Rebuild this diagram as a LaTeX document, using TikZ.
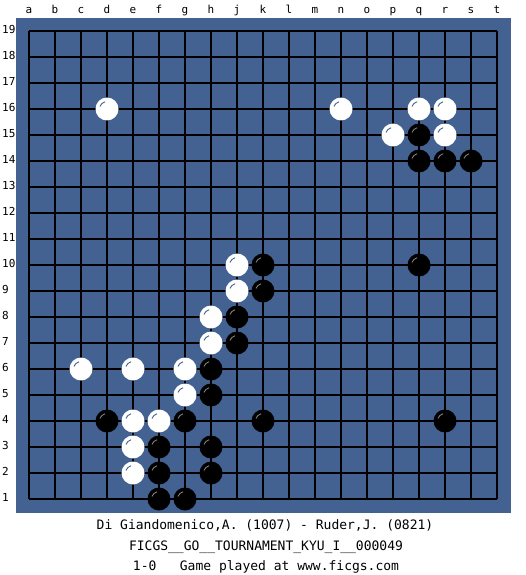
\documentclass[tikz,border=0pt]{standalone}
\usepackage{fontspec}
\newfontfamily\monofont{DejaVu Sans Mono}
\definecolor{boardblue}{RGB}{67,98,145}
\definecolor{hlgray}{RGB}{128,128,128}
\begin{document}
\begin{tikzpicture}[x=1pt,y=-1pt,
  gridline/.style={line width=1.3pt,black},
  lbl/.style={font=\monofont\fontsize{11}{11}\selectfont,inner sep=0pt},
  caption/.style={font=\monofont\fontsize{13}{13}\selectfont,inner sep=0pt,anchor=base},
  wstone/.style={fill=white},
  bstone/.style={fill=black},
  whl/.style={draw=boardblue,line width=0.9pt},
  bhl/.style={draw=hlgray,line width=0.9pt}]
\useasboundingbox (0,0) rectangle (525,575);
\fill[white] (0,0) rectangle (525,575);
\fill[boardblue] (16,18) rectangle (511,513);
\foreach \i in {0,...,18}{
  \draw[gridline] (29+26*\i,31) -- (29+26*\i,499);
  \draw[gridline] (29,31+26*\i) -- (497,31+26*\i);
}
\foreach \l [count=\i from 0] in {a,b,c,d,e,f,g,h,j,k,l,m,n,o,p,q,r,s,t}
  \node[lbl,anchor=base] (col\l) at (29+26*\i,14) {\l};
\foreach \r in {1,...,19}
  \node[lbl,anchor=base west] (row\r) at (2,31+26*19-26*\r+2.5) {\r};
% white stones: column index, row
\foreach \c/\r in {3/16,12/16,15/16,16/16,14/15,16/15,8/10,8/9,7/8,7/7,2/6,4/6,6/6,6/5,4/4,5/4,4/3,4/2}{
  \fill[wstone] (29+26*\c,31+26*19-26*\r) circle (11.5);
  \draw[whl] (29+26*\c,31+26*19-26*\r) ++(-160:7.5) arc[start angle=-160,end angle=-105,radius=7.5];
}
% black stones
\foreach \c/\r in {15/15,15/14,16/14,17/14,9/10,15/10,9/9,8/8,8/7,7/6,7/5,3/4,6/4,9/4,16/4,5/3,7/3,5/2,7/2,5/1,6/1}{
  \fill[bstone] (29+26*\c,31+26*19-26*\r) circle (11.5);
  \draw[bhl] (29+26*\c,31+26*19-26*\r) ++(-160:7.5) arc[start angle=-160,end angle=-105,radius=7.5];
}
\node[caption] (players) at (265,529) {Di Giandomenico,A. (1007) - Ruder,J. (0821)};
\node[caption] (event) at (266,550) {FICGS\_\_GO\_\_TOURNAMENT\_KYU\_I\_\_000049};
\node[caption] (result) at (266,570) {1-0\ \ \ Game played at www.ficgs.com};
\end{tikzpicture}
\end{document}
